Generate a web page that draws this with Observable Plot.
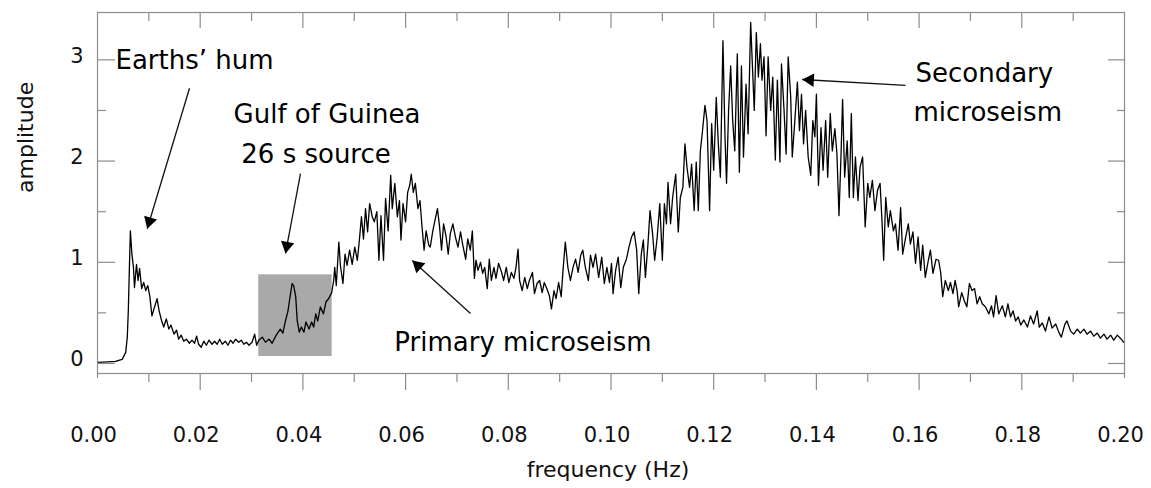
<!DOCTYPE html>
<html><head><meta charset="utf-8">
<script src="https://cdn.jsdelivr.net/npm/d3@7"></script>
<script src="https://cdn.jsdelivr.net/npm/@observablehq/plot@0.6"></script>
<style>html,body{margin:0;padding:0;background:#fff;} svg{display:block}</style>
</head><body><div id="chart"></div>
<script>
// Spectrum: [frequency (Hz), amplitude]
const spectrum = [
[0.0000,0.01],[0.0020,0.015],[0.0035,0.02],[0.0048,0.04],[0.0055,0.11],[0.0058,0.26],[0.0060,0.52],[0.0062,0.92],[0.0064,1.31],[0.0067,1.08],
[0.0070,0.95],[0.0072,0.75],[0.0076,0.98],[0.0079,0.82],[0.0082,0.94],[0.0086,0.74],[0.0090,0.80],[0.0094,0.72],[0.0098,0.77],[0.0102,0.66],
[0.0106,0.47],[0.0110,0.54],[0.0116,0.64],[0.0120,0.52],[0.0125,0.42],[0.0129,0.36],[0.0134,0.44],[0.0139,0.34],[0.0143,0.38],[0.0149,0.29],
[0.0154,0.33],[0.0158,0.24],[0.0163,0.28],[0.0168,0.22],[0.0173,0.24],[0.0179,0.20],[0.0184,0.23],[0.0189,0.20],[0.0193,0.27],[0.0197,0.19],
[0.0202,0.16],[0.0207,0.22],[0.0212,0.18],[0.0217,0.23],[0.0223,0.19],[0.0228,0.22],[0.0233,0.19],[0.0238,0.24],[0.0243,0.19],[0.0249,0.22],
[0.0254,0.18],[0.0259,0.23],[0.0264,0.20],[0.0269,0.24],[0.0275,0.21],[0.0280,0.23],[0.0285,0.19],[0.0290,0.21],[0.0295,0.18],[0.0301,0.21],
[0.0306,0.29],[0.0310,0.18],
[0.0314,0.23],[0.0321,0.26],[0.0327,0.21],[0.0334,0.24],[0.0340,0.20],[0.0347,0.27],[0.0352,0.31],[0.0356,0.34],[0.0361,0.30],[0.0366,0.42],
[0.0371,0.52],[0.0375,0.66],[0.0379,0.79],[0.0382,0.77],[0.0386,0.66],[0.0389,0.42],[0.0393,0.31],[0.0397,0.36],[0.0402,0.31],[0.0406,0.41],
[0.0412,0.34],[0.0417,0.41],[0.0421,0.36],[0.0425,0.49],[0.0429,0.42],[0.0434,0.56],[0.0440,0.49],[0.0445,0.61],[0.0450,0.64],[0.0456,0.70],
[0.0460,0.82],[0.0462,0.95],[0.0465,0.77],[0.0470,1.20],[0.0473,0.97],[0.0478,0.79],[0.0482,1.08],[0.0486,0.97],[0.0491,1.12],[0.0496,0.98],
[0.0501,1.15],[0.0506,1.02],[0.0510,1.22],[0.0514,1.45],[0.0518,1.23],[0.0522,1.53],[0.0526,1.30],[0.0530,1.58],[0.0535,1.45],[0.0539,1.40],
[0.0544,1.50],[0.0548,1.02],[0.0552,1.46],[0.0557,1.02],[0.0561,1.63],[0.0566,1.31],[0.0571,1.86],[0.0574,1.53],[0.0579,1.78],[0.0584,1.45],
[0.0588,1.61],[0.0591,1.22],[0.0595,1.58],[0.0600,1.40],[0.0604,1.69],[0.0608,1.76],[0.0611,1.87],[0.0615,1.69],[0.0619,1.78],[0.0624,1.53],
[0.0628,1.61],[0.0632,1.35],[0.0636,1.12],[0.0640,1.31],[0.0645,1.17],
[0.0648,1.15],[0.0653,1.31],[0.0657,1.41],[0.0662,1.53],[0.0666,1.36],[0.0670,1.12],[0.0674,1.38],[0.0679,1.25],[0.0683,1.08],[0.0687,1.28],
[0.0692,1.38],[0.0697,1.25],[0.0702,1.15],[0.0707,1.30],[0.0711,1.18],[0.0717,1.03],[0.0721,1.23],[0.0726,1.12],[0.0730,1.31],[0.0734,0.84],
[0.0737,1.02],[0.0741,0.92],[0.0746,1.00],[0.0750,0.89],[0.0754,0.95],[0.0759,0.74],[0.0763,1.03],[0.0767,0.82],[0.0772,0.95],[0.0776,0.84],
[0.0781,0.99],[0.0787,0.90],[0.0791,0.82],[0.0796,0.95],[0.0801,0.80],[0.0806,0.90],[0.0811,0.84],[0.0815,0.95],[0.0819,1.13],[0.0822,0.82],
[0.0827,0.72],[0.0832,0.85],[0.0837,0.74],[0.0841,0.82],[0.0847,0.90],[0.0851,0.69],[0.0856,0.79],[0.0861,0.82],[0.0866,0.70],[0.0870,0.80],
[0.0875,0.74],[0.0880,0.67],[0.0884,0.54],[0.0889,0.72],[0.0893,0.64],[0.0898,0.80],[0.0903,0.66],[0.0907,0.95],[0.0911,1.20],[0.0916,0.95],
[0.0921,0.82],[0.0926,0.95],[0.0931,1.03],[0.0936,0.90],[0.0941,1.07],[0.0945,1.12],[0.0950,0.95],[0.0956,0.82],[0.0960,1.07],[0.0965,0.95],
[0.0970,1.08],
[0.0976,0.85],[0.0982,1.05],[0.0987,0.79],[0.0992,0.95],[0.0997,0.80],[0.1001,0.99],[0.1004,0.69],[0.1009,0.92],[0.1014,1.05],[0.1019,0.75],
[0.1024,0.95],[0.1030,1.03],[0.1035,1.15],[0.1040,1.25],[0.1045,1.30],[0.1050,1.12],[0.1054,0.69],[0.1059,1.08],[0.1063,1.22],[0.1067,0.85],
[0.1072,1.18],[0.1076,1.51],[0.1081,1.28],[0.1085,1.02],[0.1090,1.25],[0.1095,1.58],[0.1100,1.02],[0.1104,1.58],[0.1108,1.38],[0.1111,1.79],
[0.1116,1.38],[0.1120,1.64],[0.1126,1.87],[0.1131,1.30],[0.1135,1.64],[0.1140,1.74],[0.1144,2.17],[0.1148,1.94],[0.1153,1.74],[0.1157,1.97],
[0.1162,1.51],[0.1166,1.99],[0.1170,1.51],[0.1174,2.10],[0.1178,2.29],[0.1183,2.55],[0.1187,2.40],[0.1192,1.51],[0.1196,2.37],[0.1200,1.91],
[0.1205,2.63],[0.1209,2.17],[0.1213,1.84],[0.1218,3.19],[0.1222,2.24],[0.1225,1.78],[0.1229,2.50],[0.1233,2.94],[0.1237,2.40],[0.1241,2.10],
[0.1246,3.06],[0.1250,1.89],[0.1254,2.94],[0.1258,2.04],[0.1263,2.76],[0.1267,2.27],[0.1272,3.37],[0.1275,2.99],[0.1279,2.50],[0.1283,3.27],
[0.1287,2.83],[0.1291,3.16],[0.1294,2.80],[0.1298,3.03],[0.1302,2.25],[0.1306,3.03],
[0.1311,2.50],[0.1315,2.83],[0.1320,2.01],[0.1324,2.80],[0.1329,1.99],[0.1332,2.96],[0.1337,2.50],[0.1341,2.07],[0.1345,3.03],[0.1350,2.63],
[0.1353,2.04],[0.1358,2.40],[0.1363,2.78],[0.1367,2.30],[0.1371,2.66],[0.1375,2.17],[0.1379,2.50],[0.1384,2.04],[0.1389,1.86],[0.1393,2.40],
[0.1397,2.24],[0.1400,2.66],[0.1404,1.76],[0.1409,2.33],[0.1413,1.91],[0.1418,2.40],[0.1422,1.84],[0.1427,2.47],[0.1431,2.10],[0.1436,2.32],
[0.1440,2.07],[0.1444,1.46],[0.1448,2.07],[0.1451,2.61],[0.1455,1.84],[0.1460,2.20],[0.1464,1.64],[0.1468,2.47],[0.1472,1.64],[0.1476,2.04],
[0.1481,1.61],[0.1485,1.94],[0.1490,2.04],[0.1495,1.35],[0.1500,1.78],[0.1504,1.64],[0.1509,1.81],[0.1514,1.51],[0.1519,1.71],[0.1524,1.78],
[0.1528,1.38],[0.1531,1.02],[0.1535,1.64],[0.1540,1.35],[0.1544,1.51],[0.1550,1.31],[0.1554,1.38],[0.1559,1.12],[0.1564,1.54],[0.1568,1.08],
[0.1574,1.25],[0.1579,1.38],[0.1583,1.18],[0.1588,1.30],[0.1593,0.99],[0.1598,1.25],[0.1603,0.92],[0.1607,1.17],[0.1612,0.85],[0.1618,1.02],
[0.1622,1.12],[0.1627,0.89],[0.1633,1.03],
[0.1638,1.02],[0.1642,0.90],[0.1646,0.66],[0.1651,0.82],[0.1657,0.72],[0.1661,0.80],[0.1666,0.69],[0.1670,0.82],[0.1674,0.72],[0.1677,0.56],
[0.1683,0.70],[0.1688,0.62],[0.1693,0.56],[0.1698,0.79],[0.1703,0.72],[0.1708,0.74],[0.1713,0.59],[0.1718,0.66],[0.1723,0.59],[0.1729,0.56],
[0.1736,0.49],[0.1741,0.57],[0.1745,0.46],[0.1750,0.67],[0.1755,0.49],[0.1762,0.57],[0.1768,0.46],[0.1773,0.59],[0.1778,0.46],[0.1783,0.52],
[0.1788,0.42],[0.1793,0.46],[0.1798,0.38],[0.1804,0.43],[0.1811,0.36],[0.1817,0.47],[0.1823,0.39],[0.1830,0.52],[0.1834,0.36],[0.1840,0.40],
[0.1846,0.32],[0.1853,0.46],[0.1859,0.35],[0.1866,0.39],[0.1872,0.31],[0.1877,0.26],[0.1884,0.39],[0.1888,0.42],[0.1895,0.32],[0.1901,0.29],
[0.1908,0.34],[0.1914,0.30],[0.1921,0.34],[0.1927,0.29],[0.1934,0.32],[0.1940,0.27],[0.1947,0.30],[0.1953,0.25],[0.1960,0.29],[0.1966,0.24],
[0.1973,0.28],[0.1979,0.23],[0.1986,0.28],[0.1992,0.25],[0.1998,0.21]
];

const xTickLabels = [0, 0.02, 0.04, 0.06, 0.08, 0.10, 0.12, 0.14, 0.16, 0.18, 0.20];
const xMajorTicks = [0.02, 0.04, 0.06, 0.08, 0.10, 0.12, 0.14, 0.16, 0.18];
const xMinorTicks = [0.01, 0.03, 0.05, 0.07, 0.09, 0.11, 0.13, 0.15, 0.17, 0.19];
const xEndTicks = [0, 0.20];
const yTickLabels = [0, 1, 2, 3];
const yMinorTicks = [0.5, 1.5, 2.5];

// shaded "Gulf of Guinea" band
const highlight = [{f1: 0.0314, f2: 0.0457, a1: 0.069, a2: 0.876}];

// annotations
const notes = [
  {label: "Earths’ hum", f: 0.0035, a: 2.99},
  {label: "Gulf of Guinea", f: 0.0265, a: 2.463},
  {label: "26 s source", f: 0.0280, a: 2.068},
  {label: "Primary microseism", f: 0.0578, a: 0.2075},
  {label: "Secondary", f: 0.1593, a: 2.859},
  {label: "microseism", f: 0.1589, a: 2.480}
];
const arrows = [
  {f1: 0.01792, a1: 2.720, f2: 0.00968, a2: 1.331},
  {f1: 0.03953, a1: 1.877, f2: 0.03661, a2: 1.087},
  {f1: 0.07264, a1: 0.494, f2: 0.06129, a2: 1.018},
  {f1: 0.15735, a1: 2.747, f2: 0.13724, a2: 2.806}
];

const W = 1151, H = 488, mL = 97, mR = 27, mT = 12, mB = 115;
const xDom = [0, 0.2], yDom = [-0.099, 3.468];
const kx = (W - mL - mR) / (xDom[1] - xDom[0]);
const ky = (H - mT - mB) / (yDom[1] - yDom[0]);
const headR = 5;
const headBack = 2 * Math.sqrt(Math.PI * headR * headR / (3 * Math.sqrt(3)));
const heads = arrows.map(a => {
  const dx = (a.f2 - a.f1) * kx, dy = -(a.a2 - a.a1) * ky;
  const L = Math.hypot(dx, dy), ux = dx / L, uy = dy / L;
  return {f: a.f2 - ux * headBack / kx, a: a.a2 + uy * headBack / ky, angle: Math.atan2(ux, -uy) * 180 / Math.PI};
});

const frameColor = "#8c8c8c";
const textColor = "#111";
const fmtX = d3.format(".2f");

const chart = Plot.plot({
  width: W, height: H,
  marginLeft: mL, marginRight: mR, marginTop: mT, marginBottom: mB,
  x: {domain: xDom, axis: null},
  y: {domain: yDom, axis: null},
  style: {fontFamily: "DejaVu Sans", background: "#fff", overflow: "visible"},
  marks: [
    Plot.rect(highlight, {x1: "f1", x2: "f2", y1: "a1", y2: "a2", fill: "#a9a9a9"}),
    Plot.line(spectrum, {x: d => d[0], y: d => d[1], stroke: "#000", strokeWidth: 1.3}),
    Plot.frame({stroke: frameColor, strokeWidth: 1.2}),
    // inward ticks on left/right/top, outward on bottom
    Plot.axisY(yTickLabels, {anchor: "left", tickSize: -18, fill: "none", stroke: frameColor, strokeWidth: 1.2}),
    Plot.axisY(yMinorTicks, {anchor: "left", tickSize: -9, fill: "none", stroke: frameColor, strokeWidth: 1.2}),
    Plot.axisY(yTickLabels, {anchor: "right", tickSize: -17, fill: "none", stroke: frameColor, strokeWidth: 1.2}),
    Plot.axisY(yMinorTicks, {anchor: "right", tickSize: -8, fill: "none", stroke: frameColor, strokeWidth: 1.2}),
    Plot.axisX(xMajorTicks, {anchor: "top", tickSize: -15, fill: "none", stroke: frameColor, strokeWidth: 1.2}),
    Plot.axisX(xMinorTicks, {anchor: "top", tickSize: -8, fill: "none", stroke: frameColor, strokeWidth: 1.2}),
    Plot.axisX(xMajorTicks, {anchor: "bottom", tickSize: 17, fill: "none", stroke: frameColor, strokeWidth: 1.2}),
    Plot.axisX(xMinorTicks, {anchor: "bottom", tickSize: 9, fill: "none", stroke: frameColor, strokeWidth: 1.2}),
    Plot.axisX(xEndTicks, {anchor: "bottom", tickSize: 5, fill: "none", stroke: frameColor, strokeWidth: 1.2}),
    // tick labels
    Plot.text(xTickLabels, {x: d => d, frameAnchor: "bottom", text: d => fmtX(d), dx: -4, dy: 62, lineAnchor: "middle", fontSize: 21, fill: textColor}),
    Plot.text(yTickLabels, {y: d => d, frameAnchor: "left", text: d => String(d), dx: -14, dy: -4, textAnchor: "end", lineAnchor: "middle", fontSize: 21, fill: textColor}),
    // axis titles
    Plot.text(["amplitude"], {frameAnchor: "left", dx: -72, rotate: -90, lineAnchor: "middle", fontSize: 22, fill: textColor}),
    Plot.text(["frequency (Hz)"], {frameAnchor: "bottom", dx: -3, dy: 96, lineAnchor: "middle", fontSize: 22, fill: textColor}),
    // annotations
    Plot.link(arrows, {x1: "f1", y1: "a1", x2: "f2", y2: "a2", stroke: "#111", strokeWidth: 1.3}),
    Plot.dot(heads, {x: "f", y: "a", symbol: "triangle", r: headR, rotate: "angle", fill: "#000", stroke: "none"}),
    Plot.text(notes, {x: "f", y: "a", text: "label", textAnchor: "start", lineAnchor: "middle", fontSize: 26, fill: "#000"})
  ]
});
document.getElementById("chart").append(chart);
</script>
</body></html>
